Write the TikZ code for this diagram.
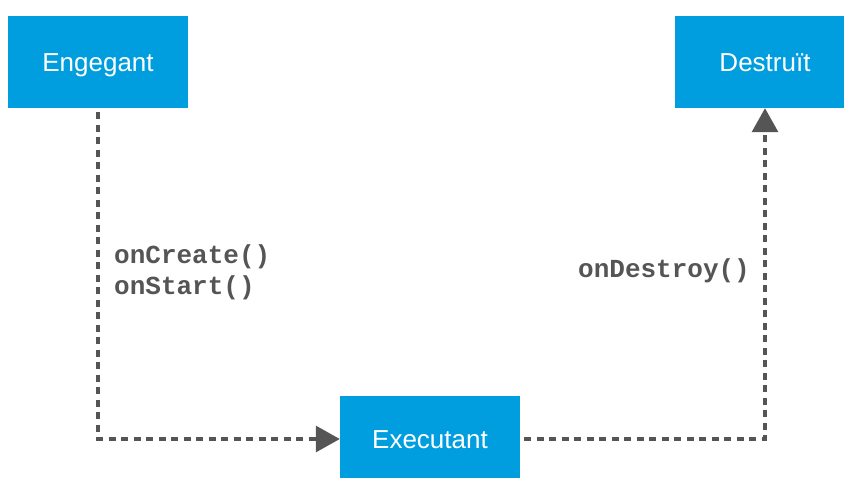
\documentclass[tikz,border=0pt]{standalone}
\usepackage{fontspec}
\setmainfont{Liberation Sans}
\newfontfamily\codefont{Liberation Mono}
\usetikzlibrary{arrows.meta}
\definecolor{boxblue}{HTML}{009DDF}
\definecolor{linegrey}{HTML}{555555}
\begin{document}
\begin{tikzpicture}[x=1pt,y=-1pt,
  statebox/.style={fill=boxblue,draw=none,text=white,font=\fontsize{26}{30}\selectfont,
    minimum width=180pt,text height=18.7pt,text depth=0pt,inner sep=0pt},
  flow/.style={draw=linegrey,line width=3.2pt,dash pattern=on 7pt off 5.5pt,dash phase=-4pt,
    -{Triangle[length=24pt,width=26pt,fill=linegrey]}},
  code/.style={text=linegrey,font=\codefont\bfseries\fontsize{26}{30}\selectfont,inner sep=0pt,anchor=base west}]
\useasboundingbox (0,0) rectangle (844,477);
\begin{scope}
\clip (0,0) rectangle (844,477);
\node[statebox,minimum height=92pt] (eng) at (98,62) {Engegant};
\node[statebox,minimum height=92pt] (des) at (765,62) {Destruït};
\node[statebox,minimum height=86pt] (exe) at (430,439) {Executant};
\end{scope}
\draw[flow] (eng.south) |- (exe.west);
\draw[flow] (exe.east) -| (des.south);
\node[code] (l1) at (114,263) {onCreate()};
\node[code] (l2) at (114,294) {onStart()};
\node[code] (l3) at (578,277) {onDestroy()};
\end{tikzpicture}
\end{document}
